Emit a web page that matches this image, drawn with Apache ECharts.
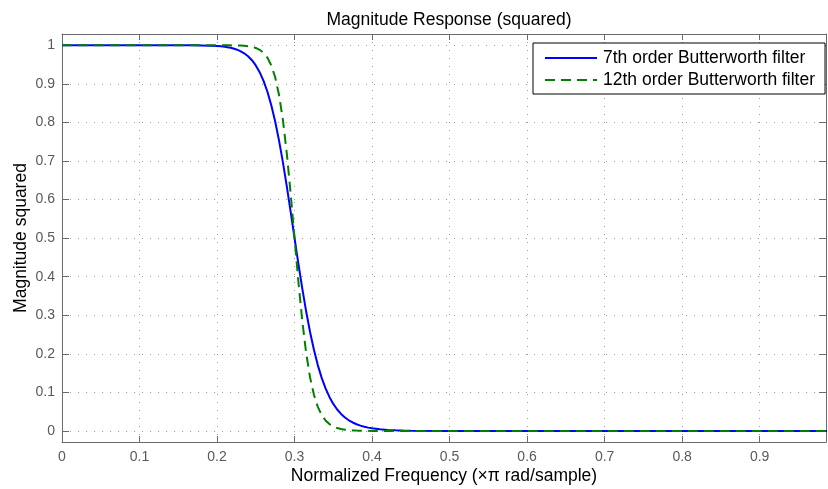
<!DOCTYPE html>
<html>
<head>
<meta charset="utf-8">
<script src="https://cdn.jsdelivr.net/npm/echarts@6/dist/echarts.min.js"></script>
<style>html,body{margin:0;padding:0;background:#fff}#c{width:828px;height:489px}</style>
</head>
<body>
<div id="c"></div>
<script>
const freq = [0, 0.1, 0.15, 0.17, 0.18, 0.19, 0.2, 0.205, 0.21, 0.215, 0.22, 0.225, 0.23, 0.235, 0.24, 0.245, 0.25, 0.255, 0.26, 0.265, 0.27, 0.275, 0.28, 0.285, 0.29, 0.295, 0.30, 0.305, 0.31, 0.315, 0.32, 0.325, 0.33, 0.335, 0.34, 0.345, 0.35, 0.355, 0.36, 0.365, 0.37, 0.375, 0.38, 0.385, 0.39, 0.395, 0.40, 0.41, 0.42, 0.43, 0.44, 0.45, 0.5, 0.6, 0.7, 0.8, 0.9, 0.99];
const mag7 = [1, 1, 0.99997, 0.99983, 0.99962, 0.99914, 0.99816, 0.99735, 0.99619, 0.99458, 0.99233, 0.98924, 0.98500, 0.97928, 0.97157, 0.96133, 0.94781, 0.93027, 0.90778, 0.87947, 0.84449, 0.80237, 0.75288, 0.69655, 0.63421, 0.56790, 0.5, 0.43286, 0.36907, 0.30962, 0.25659, 0.21042, 0.17082, 0.13777, 0.11045, 0.08819, 0.07019, 0.05575, 0.04421, 0.03503, 0.02775, 0.02199, 0.01743, 0.01382, 0.01096, 0.00870, 0.00692, 0.00438, 0.00278, 0.00177, 0.00113, 0.00072, 0.00008, 0, 0, 0, 0, 0];
const mag12 = [1, 1, 1, 1, 1, 0.99999, 0.99998, 0.99996, 0.99993, 0.99987, 0.99976, 0.99957, 0.99923, 0.99865, 0.99766, 0.99596, 0.99311, 0.98837, 0.98056, 0.96792, 0.94789, 0.91700, 0.87099, 0.80601, 0.71978, 0.61502, 0.5, 0.38625, 0.28512, 0.20185, 0.13900, 0.09389, 0.06249, 0.04133, 0.02723, 0.01791, 0.01178, 0.00776, 0.00512, 0.00339, 0.00225, 0.00149, 0.00099, 0.00066, 0.00044, 0.0003, 0.0002, 0.00009, 0.00004, 0.00002, 0.00001, 0, 0, 0, 0, 0, 0, 0];
const xTicks = [0, 0.1, 0.2, 0.3, 0.4, 0.5, 0.6, 0.7, 0.8, 0.9];
const yTicks = [0, 0.1, 0.2, 0.3, 0.4, 0.5, 0.6, 0.7, 0.8, 0.9, 1];
const seriesNames = ['7th order Butterworth filter', '12th order Butterworth filter'];

const FONT = 'Liberation Sans, Arial, Helvetica, sans-serif';
const axisGray = '#6b6b6b';
const labelGray = '#5a5a5a';
const gridLine = { show: true, lineStyle: { color: '#9a9a9a', type: [1, 7], width: 1 } };
const X_MAX = 0.9856, Y_MIN = -0.0286, Y_MAX = 1.0293;

const chart = echarts.init(document.getElementById('c'), null, { renderer: 'canvas' });
chart.setOption({
  animation: false,
  backgroundColor: '#fff',
  title: {
    text: 'Magnitude Response (squared)',
    left: 444, top: 6, textAlign: 'center',
    textStyle: { fontFamily: FONT, fontSize: 17.5, fontWeight: 'normal', color: '#000' }
  },
  legend: {
    orient: 'vertical', left: 533, top: 43,
    padding: [6, 10, 5, 11], itemGap: 4, itemWidth: 52, itemHeight: 14,
    backgroundColor: '#fff', borderColor: '#000', borderWidth: 1, borderRadius: 0,
    itemStyle: { opacity: 0, borderWidth: 0 },
    textStyle: { fontFamily: FONT, fontSize: 17.5, lineHeight: 18, color: '#000', padding: [0, 0, 0, 1] },
    data: seriesNames
  },
  grid: { left: 62, right: 2, top: 34, bottom: 47, containLabel: false, outerBoundsMode: 'none' },
  xAxis: [{
    type: 'value', min: 0, max: X_MAX, position: 'bottom',
    name: 'Normalized Frequency (\u00d7\u03c0 rad/sample)', nameLocation: 'middle', nameGap: 25,
    nameMoveOverlap: false,
    nameTextStyle: { fontFamily: FONT, fontSize: 17.5, color: '#000' },
    axisLine: { show: true, onZero: false, lineStyle: { color: axisGray, width: 1 } },
    axisTick: { show: true, inside: true, length: 6, customValues: xTicks, lineStyle: { color: axisGray } },
    axisLabel: { customValues: xTicks, margin: 8, fontFamily: FONT, fontSize: 14, color: labelGray },
    splitLine: gridLine
  }, {
    type: 'value', min: 0, max: X_MAX, position: 'top',
    axisLine: { show: true, onZero: false, lineStyle: { color: axisGray, width: 1 } },
    axisTick: { show: true, inside: true, length: 6, customValues: xTicks, lineStyle: { color: axisGray } },
    axisLabel: { show: false },
    splitLine: { show: false }
  }],
  yAxis: [{
    type: 'value', min: Y_MIN, max: Y_MAX, position: 'left',
    name: 'Magnitude squared', nameLocation: 'middle', nameGap: 32,
    nameMoveOverlap: false,
    nameTextStyle: { fontFamily: FONT, fontSize: 17.5, color: '#000' },
    axisLine: { show: true, onZero: false, lineStyle: { color: axisGray, width: 1 } },
    axisTick: { show: true, inside: true, length: 7, customValues: yTicks, lineStyle: { color: axisGray } },
    axisLabel: { customValues: yTicks, margin: 7, fontFamily: FONT, fontSize: 14, color: labelGray },
    splitLine: gridLine
  }, {
    type: 'value', min: Y_MIN, max: Y_MAX, position: 'right',
    axisLine: { show: true, onZero: false, lineStyle: { color: axisGray, width: 1 } },
    axisTick: { show: true, inside: true, length: 7, customValues: yTicks, lineStyle: { color: axisGray } },
    axisLabel: { show: false },
    splitLine: { show: false }
  }],
  series: [{
    name: seriesNames[0], type: 'line', showSymbol: false, symbol: 'none',
    data: freq.map((f, i) => [f, mag7[i]]),
    lineStyle: { color: '#0000ff', width: 2 }, itemStyle: { color: '#0000ff' }
  }, {
    name: seriesNames[1], type: 'line', showSymbol: false, symbol: 'none',
    data: freq.map((f, i) => [f, mag12[i]]),
    lineStyle: { color: '#008000', width: 2, type: [10, 6] }, itemStyle: { color: '#008000' }
  }]
});
</script>
</body>
</html>
